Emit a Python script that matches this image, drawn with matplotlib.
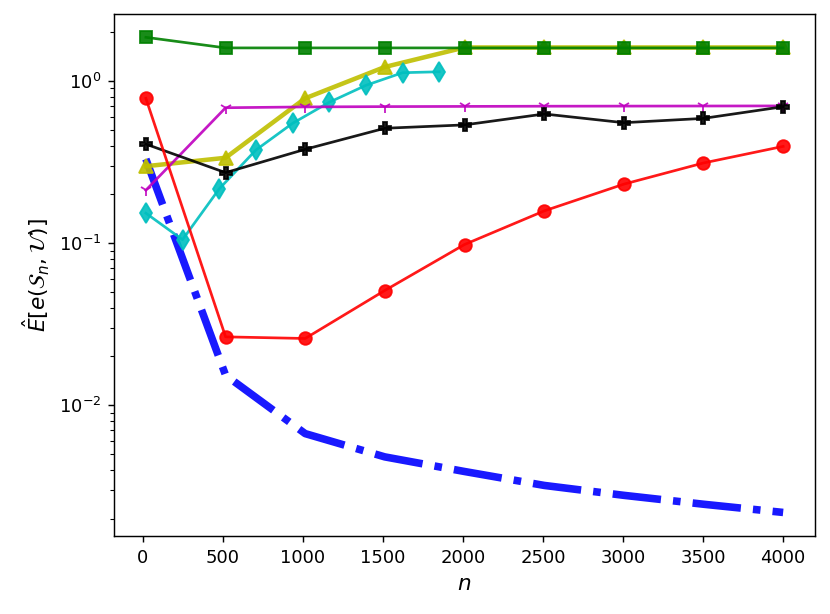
import matplotlib
matplotlib.use("Agg")
import matplotlib.pyplot as plt

n_grid = [20, 518, 1015, 1512, 2010, 2508, 3005, 3502, 4000]
n_cyan = [20, 249, 478, 707, 936, 1165, 1394, 1623, 1852]

blue_vals = [0.33, 0.0153, 0.00668, 0.0048, 0.0039, 0.0032, 0.00278, 0.00245, 0.00218]
yellow_vals = [0.298, 0.336, 0.782, 1.22, 1.61, 1.61, 1.61, 1.61, 1.61]
cyan_vals = [0.153, 0.105, 0.216, 0.375, 0.548, 0.739, 0.94, 1.125, 1.14]
magenta_vals = [0.212, 0.684, 0.692, 0.695, 0.697, 0.699, 0.700, 0.701, 0.702]
black_vals = [0.408, 0.272, 0.379, 0.511, 0.536, 0.626, 0.553, 0.588, 0.694]
red_vals = [0.782, 0.0264, 0.0258, 0.051, 0.098, 0.158, 0.231, 0.312, 0.395]
green_vals = [1.86, 1.60, 1.60, 1.60, 1.60, 1.60, 1.60, 1.60, 1.60]

fig = plt.figure(figsize=(830/130, 614/130), dpi=130)
ax = fig.add_axes([114/830, (614-536)/614, (815-114)/830, (536-14)/614])

a = 0.9
ax.plot(n_grid, blue_vals, color='b', ls='-.', lw=4.2, alpha=a)
ax.plot(n_grid, yellow_vals, color='y', marker='^', ms=8, lw=2.5, alpha=a)
ax.plot(n_cyan, cyan_vals, color='c', marker='d', ms=8, lw=1.5, alpha=a)
ax.plot(n_grid, magenta_vals, color='m', marker='1', ms=7, lw=1.5, alpha=a)
ax.plot(n_grid, black_vals, color='k', marker='P', ms=7, lw=1.5, alpha=a)
ax.plot(n_grid, red_vals, color='r', marker='o', ms=7, lw=1.5, alpha=a)
ax.plot(n_grid, green_vals, color='g', marker='s', ms=7, lw=1.5, alpha=a)

ax.set_yscale('log')
ax.set_xlim(-179, 4199)
ax.set_ylim(1.56e-3, 2.59)
ax.set_xticks([0, 500, 1000, 1500, 2000, 2500, 3000, 3500, 4000])
ax.set_xlabel(r'$n$', fontsize=12)
ax.set_ylabel(r'$\hat{E}[e(\mathcal{S}_n, \mathcal{U})]$', fontsize=12)

fig.savefig('out.png', dpi=130)
